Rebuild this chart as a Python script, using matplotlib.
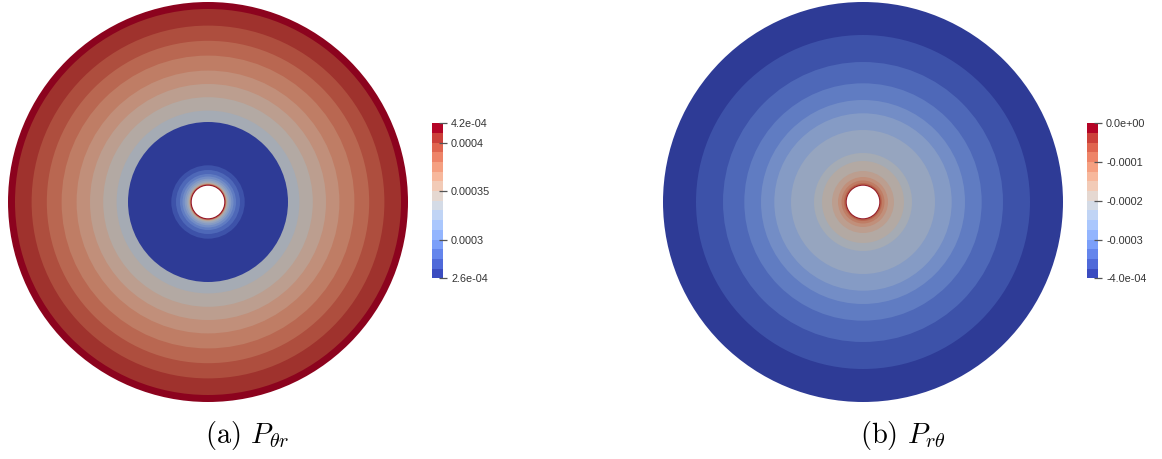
import numpy as np
import matplotlib
matplotlib.use("Agg")
import matplotlib.pyplot as plt
from matplotlib.patches import Circle
from matplotlib.colors import ListedColormap, BoundaryNorm
from matplotlib.cm import ScalarMappable

plt.rcParams['mathtext.fontset'] = 'cm'

# ---------------- data ----------------
n_levels = 16
# (a) P_theta_r : colour range and band layout (outer radius as fraction of disk radius, band index)
a_vmin, a_vmax = 2.6e-4, 4.2e-4
a_ticks = [4.2e-4, 4.0e-4, 3.5e-4, 3.0e-4, 2.6e-4]
a_ticklabels = ["4.2e-04", "0.0004", "0.00035", "0.0003", "2.6e-04"]
a_radius = [1.000, 0.965, 0.882, 0.806, 0.732, 0.657, 0.590, 0.524, 0.457, 0.400,
            0.1835, 0.160, 0.140, 0.1275, 0.1165, 0.1075, 0.100, 0.096, 0.093, 0.0905, 0.088, 0.0855]
a_band = [15, 14, 13, 12, 11, 10, 9, 8, 7, 0,
          1, 2, 3, 4, 5, 6, 7, 8, 9, 11, 13, 15]
a_hole = 0.0815

# (b) P_r_theta
b_vmin, b_vmax = -4.0e-4, 0.0
b_ticks = [0.0, -1e-4, -2e-4, -3e-4, -4e-4]
b_ticklabels = ["0.0e+00", "-0.0001", "-0.0002", "-0.0003", "-4.0e-04"]
b_radius = [1.000, 0.835, 0.700, 0.5935, 0.510, 0.4435, 0.360, 0.245, 0.205, 0.155,
            0.125, 0.1075, 0.095, 0.089, 0.086, 0.084]
b_band = [0, 1, 2, 3, 4, 5, 6, 7, 8, 9, 10, 11, 12, 13, 14, 15]
b_hole = 0.0815

captions = [r"(a) $P_{\theta r}$", r"(b) $P_{r\theta}$"]

# ---------------- figure ----------------
W, H = 1162, 459
fig = plt.figure(figsize=(W / 100, H / 100), dpi=100)
ax = fig.add_axes([0, 0, 1, 1])
ax.set_xlim(0, W)
ax.set_ylim(H, 0)
ax.axis('off')

cmap = ListedColormap(plt.get_cmap('coolwarm')(np.linspace(0, 1, n_levels)))
shade = 0.78


def band_color(k):
    r, g, b, a = cmap(k)
    return (r * shade, g * shade, b * shade, 1.0)


def draw_disk(cx, cy, R, radii, bands, hole):
    order = np.argsort(radii)[::-1]
    for i in order:
        ax.add_patch(Circle((cx, cy), radii[i] * R, facecolor=band_color(bands[i]),
                            edgecolor='none', lw=0))
    ax.add_patch(Circle((cx, cy), hole * R, facecolor='white', edgecolor='none', lw=0))


R = 200
draw_disk(208, 202, R, a_radius, a_band, a_hole)
draw_disk(863, 202, R, b_radius, b_band, b_hole)


def add_cbar(x0, vmin, vmax, ticks, labels):
    levels = np.linspace(vmin, vmax, n_levels + 1)
    norm = BoundaryNorm(levels, n_levels)
    sm = ScalarMappable(norm=norm, cmap=cmap)
    y_top, y_bot = 123.3, 278.3
    cax = fig.add_axes([x0 / W, 1 - y_bot / H, 11 / W, (y_bot - y_top) / H])
    cb = fig.colorbar(sm, cax=cax, ticks=ticks)
    cb.minorticks_off()
    cb.outline.set_visible(False)
    cb.ax.set_yticklabels(labels)
    cb.ax.tick_params(which='both', length=6, width=0.9, color='#555555', direction='inout',
                      pad=3, labelsize=7.8, labelcolor='#333333')
    cb.ax.tick_params(which='minor', length=0)
    for t in cb.ax.get_yticklabels():
        t.set_fontfamily('Liberation Sans')
    return cb


add_cbar(431.7, a_vmin, a_vmax, a_ticks, a_ticklabels)
add_cbar(1086.7, b_vmin, b_vmax, b_ticks, b_ticklabels)

fig.text(247 / W, 1 - 435 / H, captions[0], ha='center', va='center',
         fontsize=20.5, fontfamily='cmr10')
fig.text(903 / W, 1 - 435 / H, captions[1], ha='center', va='center',
         fontsize=20.5, fontfamily='cmr10')

fig.savefig("out.png", dpi=100, facecolor='white')
